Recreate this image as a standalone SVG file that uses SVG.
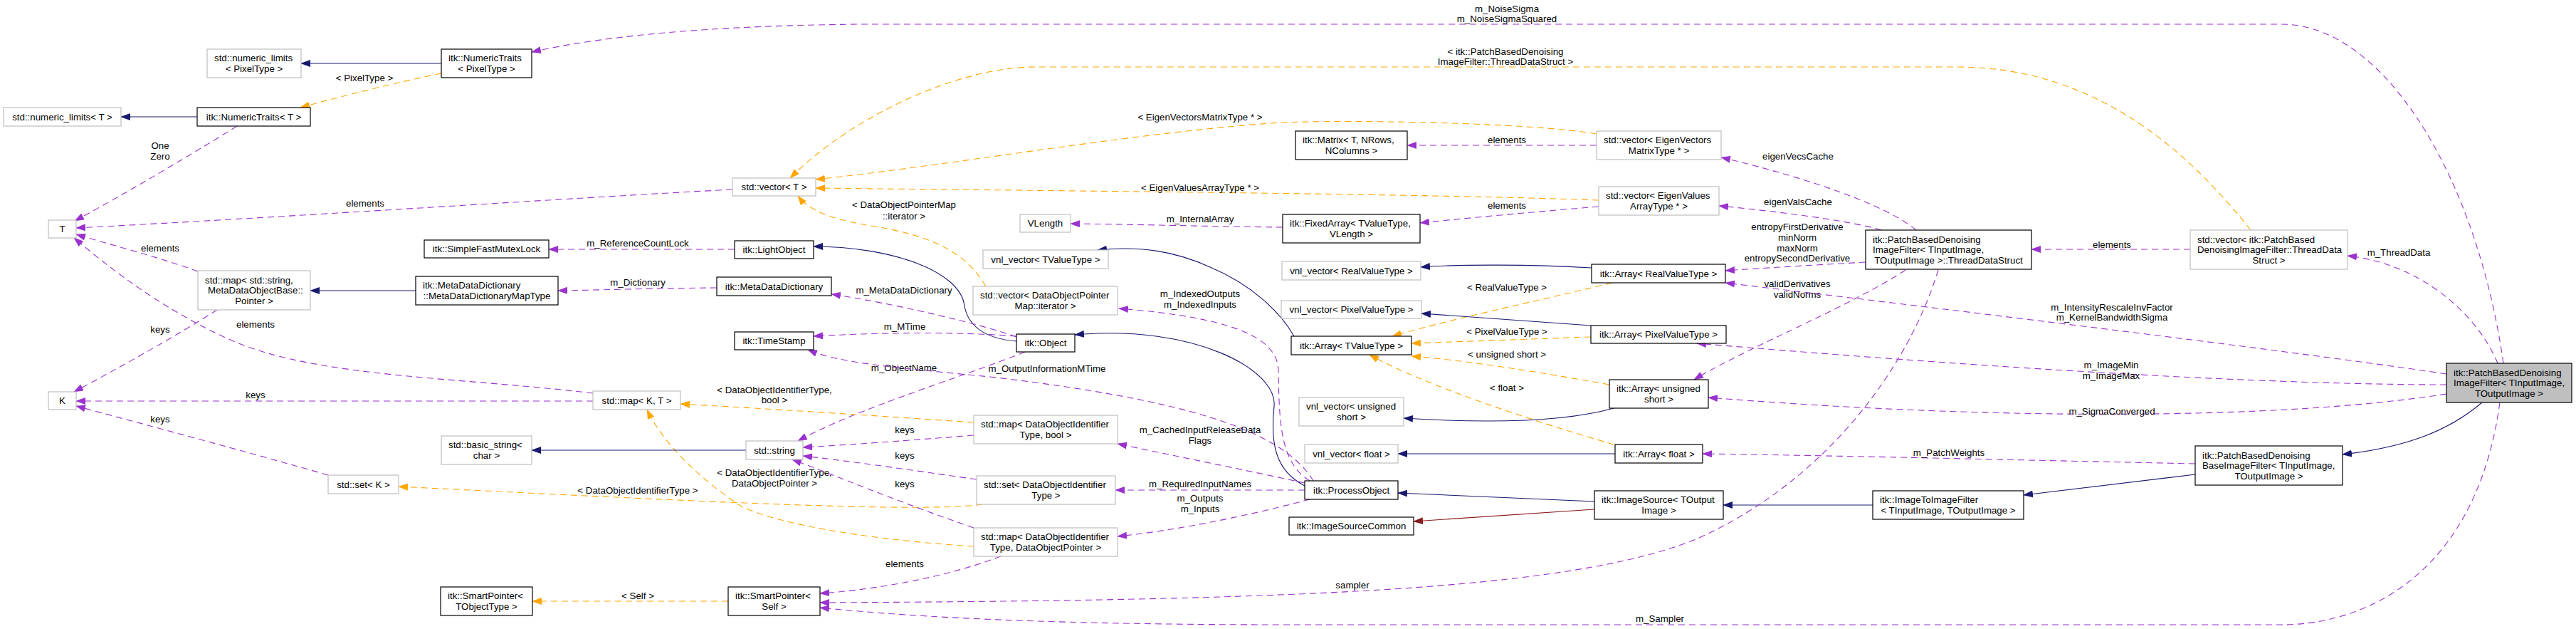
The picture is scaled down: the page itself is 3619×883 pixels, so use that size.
<svg xmlns="http://www.w3.org/2000/svg" width="3619" height="883" viewBox="0 0 3619 883">
<style>
text{font-family:"Liberation Sans",Arial,Helvetica,sans-serif;font-size:13.3px;fill:#000}
.c{text-anchor:middle}
.s{text-anchor:start}
.g rect{fill:#fff;stroke:#bfbfbf;stroke-width:1.2}
.b rect{fill:#fff;stroke:#000;stroke-width:1.2}
.m rect{fill:#bfbfbf;stroke:#000;stroke-width:1.2}
.p,.o,.v,.r{fill:none;stroke-width:1.1}
.p{stroke:#9a32cd;stroke-dasharray:9,6;marker-end:url(#ap)}
.o{stroke:#ffa500;stroke-dasharray:9,6;marker-end:url(#ao)}
.v{stroke:#191970;marker-end:url(#an)}
.r{stroke:#8b1a1a;marker-end:url(#ar)}
</style>
<defs>
<marker id="ap" markerUnits="userSpaceOnUse" markerWidth="14" markerHeight="10" viewBox="0 0 14 10" refX="13" refY="5" orient="auto"><path d="M0,0L14,5L0,10z" fill="#9a32cd" stroke="none"/></marker>
<marker id="ao" markerUnits="userSpaceOnUse" markerWidth="14" markerHeight="10" viewBox="0 0 14 10" refX="13" refY="5" orient="auto"><path d="M0,0L14,5L0,10z" fill="#ffa500" stroke="none"/></marker>
<marker id="an" markerUnits="userSpaceOnUse" markerWidth="14" markerHeight="10" viewBox="0 0 14 10" refX="13" refY="5" orient="auto"><path d="M0,0L14,5L0,10z" fill="#191970" stroke="none"/></marker>
<marker id="ar" markerUnits="userSpaceOnUse" markerWidth="14" markerHeight="10" viewBox="0 0 14 10" refX="13" refY="5" orient="auto"><path d="M0,0L14,5L0,10z" fill="#8b1a1a" stroke="none"/></marker>
</defs>
<rect width="3619" height="883" fill="#fff"/>

<g id="connectors">
<path class="v" d="M620,89 L423,89"/>
<path class="o" d="M620,103 C560,115 480,135 422,151"/>
<text class="c" x="512" y="113.7">&lt; PixelType &gt;</text>
<path class="v" d="M277,164 L170,164"/>
<path class="p" d="M333,177 C280,210 180,270 105,310"/>
<text class="c" x="225" y="208.7">One</text><text class="c" x="225" y="223.7">Zero</text>
<path class="p" d="M1029,266 C800,278 400,305 107,320"/>
<text class="c" x="513" y="289.7">elements</text>
<path class="p" d="M278,381 C220,360 160,345 107,329"/>
<text class="c" x="225" y="352.7">elements</text>
<path class="p" d="M833,552 C650,530 450,530 330,480 C240,440 170,390 104,334"/>
<text class="c" x="359" y="459.7">elements</text>
<path class="p" d="M305,435 C250,470 170,515 104,550"/>
<text class="c" x="225" y="466.7">keys</text>
<path class="p" d="M833,563 L107,563"/>
<text class="c" x="359" y="558.7">keys</text>
<path class="p" d="M461,667 C350,635 200,595 107,570"/>
<text class="c" x="225" y="592.7">keys</text>
<path class="v" d="M584,408 L436,408"/>
<path class="p" d="M1007,404 C900,405 850,407 784,408"/>
<text class="c" x="896" y="400.7">m_Dictionary</text>
<path class="p" d="M1032,350 L771,350"/>
<text class="c" x="896" y="345.7">m_ReferenceCountLock</text>
<path class="v" d="M1428,479 C1380,475 1360,455 1355,430 C1350,380 1250,346 1143,346"/>
<path class="p" d="M1428,473 C1380,455 1250,425 1168,413"/>
<text class="c" x="1270" y="411.7">m_MetaDataDictionary</text>
<path class="p" d="M1428,472 C1350,466 1250,466 1143,472"/>
<text class="c" x="1271" y="462.7">m_MTime</text>
<path class="p" d="M1440,494 C1350,530 1200,575 1121,619"/>
<text class="c" x="1270" y="520.7">m_ObjectName</text>
<path class="p" d="M1845,675 C1800,600 1650,560 1400,530 C1250,515 1180,510 1135,491"/>
<text class="c" x="1471" y="521.7">m_OutputInformationMTime</text>
<path class="v" d="M1833,682 C1790,660 1785,620 1790,570 C1795,520 1680,455 1510,470"/>
<path class="v" d="M2240,704 L1964,692"/>
<path class="r" d="M2240,715 L1986,732"/>
<path class="v" d="M2631,709 L2421,709"/>
<path class="v" d="M3084,666 L2843,695"/>
<path class="v" d="M3487,565 C3440,605 3380,628 3291,638"/>
<path class="p" d="M3517,510 C3480,250 3350,34 3205,34 L1210,34 C1000,36 850,50 747,73"/>
<text class="c" x="2117" y="16.7">m_NoiseSigma</text><text class="c" x="2117" y="30.7">m_NoiseSigmaSquared</text>
<path class="p" d="M3509,510 C3480,440 3400,370 3298,359"/>
<text class="c" x="3370" y="358.7">m_ThreadData</text>
<path class="p" d="M3077,350 L2854,350"/>
<text class="c" x="2967" y="347.7">elements</text>
<path class="o" d="M3162,323 C3080,220 2950,94 2750,94 L1453,94 C1350,94 1200,160 1110,250"/>
<text class="c" x="2115" y="76.7">&lt; itk::PatchBasedDenoising</text><text class="c" x="2115" y="90.7">ImageFilter::ThreadDataStruct &gt;</text>
<path class="p" d="M2692,323 C2640,280 2500,240 2418,221"/>
<text class="c" x="2526" y="223.7">eigenVecsCache</text>
<path class="p" d="M2643,323 C2600,310 2500,297 2415,289"/>
<text class="c" x="2526" y="287.7">eigenValsCache</text>
<path class="p" d="M2621,368 C2550,372 2480,376 2424,380"/>
<text class="c" x="2525" y="322.7">entropyFirstDerivative</text><text class="c" x="2525" y="337.7">minNorm</text><text class="c" x="2525" y="352.7">maxNorm</text><text class="c" x="2525" y="366.7">entropySecondDerivative</text>
<path class="p" d="M2677,379 C2600,430 2450,490 2380,533"/>
<text class="c" x="2525" y="402.7">validDerivatives</text><text class="c" x="2525" y="417.7">validNorms</text>
<path class="p" d="M2723,379 C2680,520 2560,680 2380,758 C2200,830 1800,843 1152,846"/>
<text class="c" x="1900" y="825.7">sampler</text>
<path class="p" d="M3437,525 C3200,490 2700,430 2424,397"/>
<text class="c" x="2967" y="435.7">m_IntensityRescaleInvFactor</text><text class="c" x="2967" y="449.7">m_KernelBandwidthSigma</text>
<path class="p" d="M3437,540 C3100,540 2600,500 2384,482"/>
<text class="c" x="2966" y="516.7">m_ImageMin</text><text class="c" x="2966" y="531.7">m_ImageMax</text>
<path class="p" d="M3437,553 C3200,590 2800,590 2400,558"/>
<text class="c" x="2967" y="581.7">m_SigmaConverged</text>
<path class="p" d="M3084,651 C2800,645 2600,640 2392,637"/>
<text class="c" x="2738" y="639.7">m_PatchWeights</text>
<path class="p" d="M3512,565 C3480,800 3330,877 3205,877 L1810,877 C1500,877 1300,868 1152,853"/>
<text class="c" x="2332" y="872.7">m_Sampler</text>
<path class="p" d="M2243,204 L1977,204"/>
<text class="c" x="2117" y="200.7">elements</text>
<path class="o" d="M2243,188 C2150,172 1900,168 1800,172 C1600,185 1350,230 1146,252"/>
<text class="c" x="1686" y="168.7">&lt; EigenVectorsMatrixType * &gt;</text>
<path class="p" d="M2246,290 C2150,298 2050,307 1995,313"/>
<text class="c" x="2117" y="292.7">elements</text>
<path class="o" d="M2246,281 C2000,272 1500,268 1146,264"/>
<text class="c" x="1686" y="267.7">&lt; EigenValuesArrayType * &gt;</text>
<path class="p" d="M1802,319 C1700,318 1600,315 1504,314"/>
<text class="c" x="1686" y="311.7">m_InternalArray</text>
<path class="v" d="M2236,376 C2150,371 2050,371 1996,375"/>
<path class="o" d="M2265,397 C2150,425 2050,445 1956,472"/>
<text class="c" x="2117" y="407.7">&lt; RealValueType &gt;</text>
<path class="v" d="M2235,457 L1997,440"/>
<path class="o" d="M2235,473 L1983,482"/>
<text class="c" x="2117" y="469.7">&lt; PixelValueType &gt;</text>
<path class="v" d="M2267,573 C2200,592 2100,595 1972,587"/>
<path class="o" d="M2261,540 C2150,520 2050,505 1983,500"/>
<text class="c" x="2117" y="501.7">&lt; unsigned short &gt;</text>
<path class="v" d="M2269,637 L1964,637"/>
<path class="o" d="M2267,624 C2150,590 2000,540 1924,498"/>
<text class="c" x="2117" y="548.7">&lt; float &gt;</text>
<path class="v" d="M1818,472 C1800,440 1760,400 1700,375 C1650,352 1600,345 1542,351"/>
<path class="o" d="M1023,844 L748,844"/>
<text class="c" x="896" y="840.7">&lt; Self &gt;</text>
<path class="o" d="M1368,593 C1250,585 1100,575 956,567"/>
<text class="c" x="1088" y="551.7">&lt; DataObjectIdentifierType,</text><text class="c" x="1088" y="565.7">bool &gt;</text>
<path class="o" d="M1368,767 C1250,760 1100,740 1040,710 C980,670 930,620 909,575"/>
<text class="c" x="1088" y="667.7">&lt; DataObjectIdentifierType,</text><text class="c" x="1088" y="682.7">DataObjectPointer &gt;</text>
<path class="o" d="M1380,708 C1300,720 1000,705 560,683"/>
<text class="c" x="896" y="692.7">&lt; DataObjectIdentifierType &gt;</text>
<path class="p" d="M1368,611 C1280,618 1200,624 1128,628"/>
<text class="c" x="1271" y="607.7">keys</text>
<path class="p" d="M1372,673 C1280,660 1200,648 1128,640"/>
<text class="c" x="1271" y="643.7">keys</text>
<path class="p" d="M1368,741 C1250,700 1180,670 1113,645"/>
<text class="c" x="1271" y="683.7">keys</text>
<path class="p" d="M1406,781 C1330,810 1230,828 1152,833"/>
<text class="c" x="1271" y="795.7">elements</text>
<path class="o" d="M1385,402 C1355,350 1300,330 1230,318 C1180,310 1140,300 1121,275"/>
<text class="c" x="1270" y="291.7">&lt; DataObjectPointerMap</text><text class="c" x="1270" y="307.7">::iterator &gt;</text>
<path class="v" d="M1048,632 L747,632"/>
<path class="p" d="M1840,675 C1800,650 1797,600 1796,520 C1795,470 1720,445 1572,433"/>
<text class="c" x="1686" y="416.7">m_IndexedOutputs</text><text class="c" x="1686" y="431.7">m_IndexedInputs</text>
<path class="p" d="M1833,678 C1750,660 1650,640 1570,623"/>
<text class="c" x="1686" y="607.7">m_CachedInputReleaseData</text><text class="c" x="1686" y="622.7">Flags</text>
<path class="p" d="M1833,688 L1567,688"/>
<text class="c" x="1686" y="683.7">m_RequiredInputNames</text>
<path class="p" d="M1840,701 C1750,725 1650,745 1570,753"/>
<text class="c" x="1686" y="703.7">m_Outputs</text><text class="c" x="1686" y="718.7">m_Inputs</text>
</g>

<g id="n_main" class="m"><rect x="3437" y="510" width="176" height="55"/><text class="s" x="3447" y="527.5">itk::PatchBasedDenoising</text><text class="s" x="3447" y="542.2">ImageFilter&lt; TInputImage,</text><text class="c" x="3525" y="556.9">TOutputImage &gt;</text></g>
<g id="n_base" class="b"><rect x="3084" y="626" width="207" height="55"/><text class="s" x="3094" y="643.5">itk::PatchBasedDenoising</text><text class="s" x="3094" y="658.2">BaseImageFilter&lt; TInputImage,</text><text class="c" x="3187.5" y="672.9">TOutputImage &gt;</text></g>
<g id="n_vecThreadData" class="g"><rect x="3077" y="323" width="221" height="55"/><text class="s" x="3087" y="340.5">std::vector&lt; itk::PatchBased</text><text class="s" x="3087" y="355.2">DenoisingImageFilter::ThreadData</text><text class="c" x="3187.5" y="369.9">Struct &gt;</text></g>
<g id="n_threadDataStruct" class="b"><rect x="2621" y="323" width="233" height="55"/><text class="s" x="2631" y="340.5">itk::PatchBasedDenoising</text><text class="s" x="2631" y="355.2">ImageFilter&lt; TInputImage,</text><text class="c" x="2737.5" y="369.9">TOutputImage &gt;::ThreadDataStruct</text></g>
<g id="n_imageToImage" class="b"><rect x="2631" y="689" width="212" height="40"/><text class="s" x="2641" y="706.3">itk::ImageToImageFilter</text><text class="c" x="2737" y="721">&lt; TInputImage, TOutputImage &gt;</text></g>
<g id="n_vecEigenVectors" class="g"><rect x="2243" y="184" width="175" height="40"/><text class="s" x="2253" y="201.3">std::vector&lt; EigenVectors</text><text class="c" x="2330.5" y="216">MatrixType * &gt;</text></g>
<g id="n_vecEigenValues" class="g"><rect x="2246" y="262" width="169" height="40"/><text class="s" x="2256" y="279.3">std::vector&lt; EigenValues</text><text class="c" x="2330.5" y="294">ArrayType * &gt;</text></g>
<g id="n_arrReal" class="b"><rect x="2236" y="371" width="188" height="26"/><text class="c" x="2330" y="388.7">itk::Array&lt; RealValueType &gt;</text></g>
<g id="n_arrPixel" class="b"><rect x="2235" y="457" width="190" height="25"/><text class="c" x="2330" y="474.2">itk::Array&lt; PixelValueType &gt;</text></g>
<g id="n_arrUShort" class="b"><rect x="2261" y="533" width="139" height="40"/><text class="s" x="2271" y="550.3">itk::Array&lt; unsigned</text><text class="c" x="2330.5" y="565">short &gt;</text></g>
<g id="n_arrFloat" class="b"><rect x="2269" y="624" width="123" height="26"/><text class="c" x="2330.5" y="641.7">itk::Array&lt; float &gt;</text></g>
<g id="n_imageSource" class="b"><rect x="2240" y="689" width="181" height="40"/><text class="s" x="2250" y="706.3">itk::ImageSource&lt; TOutput</text><text class="c" x="2330.5" y="721">Image &gt;</text></g>
<g id="n_matrix" class="b"><rect x="1820" y="184" width="157" height="40"/><text class="s" x="1830" y="201.3">itk::Matrix&lt; T, NRows,</text><text class="c" x="1898.5" y="216">NColumns &gt;</text></g>
<g id="n_fixedArray" class="b"><rect x="1802" y="301" width="193" height="40"/><text class="s" x="1812" y="318.3">itk::FixedArray&lt; TValueType,</text><text class="c" x="1898.5" y="333">VLength &gt;</text></g>
<g id="n_vnlReal" class="g"><rect x="1801" y="367" width="195" height="26"/><text class="c" x="1898.5" y="384.7">vnl_vector&lt; RealValueType &gt;</text></g>
<g id="n_vnlPixel" class="g"><rect x="1800" y="422" width="197" height="25"/><text class="c" x="1898.5" y="439.2">vnl_vector&lt; PixelValueType &gt;</text></g>
<g id="n_arrT" class="b"><rect x="1814" y="472" width="169" height="26"/><text class="c" x="1898.5" y="489.7">itk::Array&lt; TValueType &gt;</text></g>
<g id="n_vnlUShort" class="g"><rect x="1825" y="558" width="147" height="40"/><text class="s" x="1835" y="575.3">vnl_vector&lt; unsigned</text><text class="c" x="1898.5" y="590">short &gt;</text></g>
<g id="n_vnlFloat" class="g"><rect x="1833" y="624" width="131" height="26"/><text class="c" x="1898.5" y="641.7">vnl_vector&lt; float &gt;</text></g>
<g id="n_processObject" class="b"><rect x="1833" y="675" width="131" height="26"/><text class="c" x="1898.5" y="692.7">itk::ProcessObject</text></g>
<g id="n_imageSourceCommon" class="b"><rect x="1811" y="726" width="175" height="25"/><text class="c" x="1898.5" y="743.2">itk::ImageSourceCommon</text></g>
<g id="n_vlength" class="g"><rect x="1433" y="301" width="71" height="25"/><text class="c" x="1468.5" y="318.2">VLength</text></g>
<g id="n_vnlT" class="g"><rect x="1381" y="351" width="176" height="26"/><text class="c" x="1469" y="368.7">vnl_vector&lt; TValueType &gt;</text></g>
<g id="n_vecDOPM" class="g"><rect x="1367" y="402" width="203" height="40"/><text class="s" x="1377" y="419.3">std::vector&lt; DataObjectPointer</text><text class="c" x="1468.5" y="434">Map::iterator &gt;</text></g>
<g id="n_object" class="b"><rect x="1428" y="469" width="82" height="25"/><text class="c" x="1469" y="486.2">itk::Object</text></g>
<g id="n_mapBool" class="g"><rect x="1368" y="583" width="202" height="40"/><text class="s" x="1378" y="600.3">std::map&lt; DataObjectIdentifier</text><text class="c" x="1469" y="615">Type, bool &gt;</text></g>
<g id="n_setDOI" class="g"><rect x="1372" y="668" width="195" height="40"/><text class="s" x="1382" y="685.3">std::set&lt; DataObjectIdentifier</text><text class="c" x="1469.5" y="700">Type &gt;</text></g>
<g id="n_mapPtr" class="g"><rect x="1368" y="741" width="202" height="40"/><text class="s" x="1378" y="758.3">std::map&lt; DataObjectIdentifier</text><text class="c" x="1469" y="773">Type, DataObjectPointer &gt;</text></g>
<g id="n_numTraitsPixel" class="b"><rect x="620" y="69" width="127" height="40"/><text class="s" x="630" y="86.3">itk::NumericTraits</text><text class="c" x="683.5" y="101">&lt; PixelType &gt;</text></g>
<g id="n_vecT" class="g"><rect x="1029" y="250" width="117" height="25"/><text class="c" x="1087.5" y="267.2">std::vector&lt; T &gt;</text></g>
<g id="n_lightObject" class="b"><rect x="1032" y="338" width="111" height="25"/><text class="c" x="1087.5" y="355.2">itk::LightObject</text></g>
<g id="n_metaDataDict" class="b"><rect x="1007" y="389" width="161" height="26"/><text class="c" x="1087.5" y="406.7">itk::MetaDataDictionary</text></g>
<g id="n_timeStamp" class="b"><rect x="1032" y="466" width="111" height="25"/><text class="c" x="1087.5" y="483.2">itk::TimeStamp</text></g>
<g id="n_string" class="g"><rect x="1048" y="619" width="80" height="26"/><text class="c" x="1088" y="636.7">std::string</text></g>
<g id="n_spSelf" class="b"><rect x="1023" y="824" width="129" height="40"/><text class="s" x="1033" y="841.3">itk::SmartPointer&lt;</text><text class="c" x="1087.5" y="856">Self &gt;</text></g>
<g id="n_mapKT" class="g"><rect x="833" y="549" width="123" height="26"/><text class="c" x="894.5" y="566.7">std::map&lt; K, T &gt;</text></g>
<g id="n_mutex" class="b"><rect x="596" y="337" width="175" height="25"/><text class="c" x="683.5" y="354.2">itk::SimpleFastMutexLock</text></g>
<g id="n_mddMapType" class="b"><rect x="584" y="388" width="200" height="40"/><text class="s" x="594" y="405.3">itk::MetaDataDictionary</text><text class="c" x="684" y="420">::MetaDataDictionaryMapType</text></g>
<g id="n_basicString" class="g"><rect x="620" y="612" width="127" height="40"/><text class="s" x="630" y="629.3">std::basic_string&lt;</text><text class="c" x="683.5" y="644">char &gt;</text></g>
<g id="n_spT" class="b"><rect x="619" y="824" width="129" height="40"/><text class="s" x="629" y="841.3">itk::SmartPointer&lt;</text><text class="c" x="683.5" y="856">TObjectType &gt;</text></g>
<g id="n_numLimitsPixel" class="g"><rect x="291" y="69" width="132" height="40"/><text class="s" x="301" y="86.3">std::numeric_limits</text><text class="c" x="357" y="101">&lt; PixelType &gt;</text></g>
<g id="n_numTraitsT" class="b"><rect x="277" y="151" width="159" height="26"/><text class="c" x="356.5" y="168.7">itk::NumericTraits&lt; T &gt;</text></g>
<g id="n_mapString" class="g"><rect x="278" y="380" width="158" height="55"/><text class="s" x="288" y="397.5">std::map&lt; std::string,</text><text class="s" x="292" y="412.2">MetaDataObjectBase::</text><text class="c" x="357" y="426.9">Pointer &gt;</text></g>
<g id="n_setK" class="g"><rect x="461" y="667" width="99" height="26"/><text class="c" x="510.5" y="684.7">std::set&lt; K &gt;</text></g>
<g id="n_numLimitsT" class="g"><rect x="5" y="151" width="165" height="26"/><text class="c" x="87.5" y="168.7">std::numeric_limits&lt; T &gt;</text></g>
<g id="n_T" class="g"><rect x="68" y="309" width="39" height="25"/><text class="c" x="87.5" y="326.2">T</text></g>
<g id="n_K" class="g"><rect x="68" y="550" width="39" height="25"/><text class="c" x="87.5" y="567.2">K</text></g>
</svg>
